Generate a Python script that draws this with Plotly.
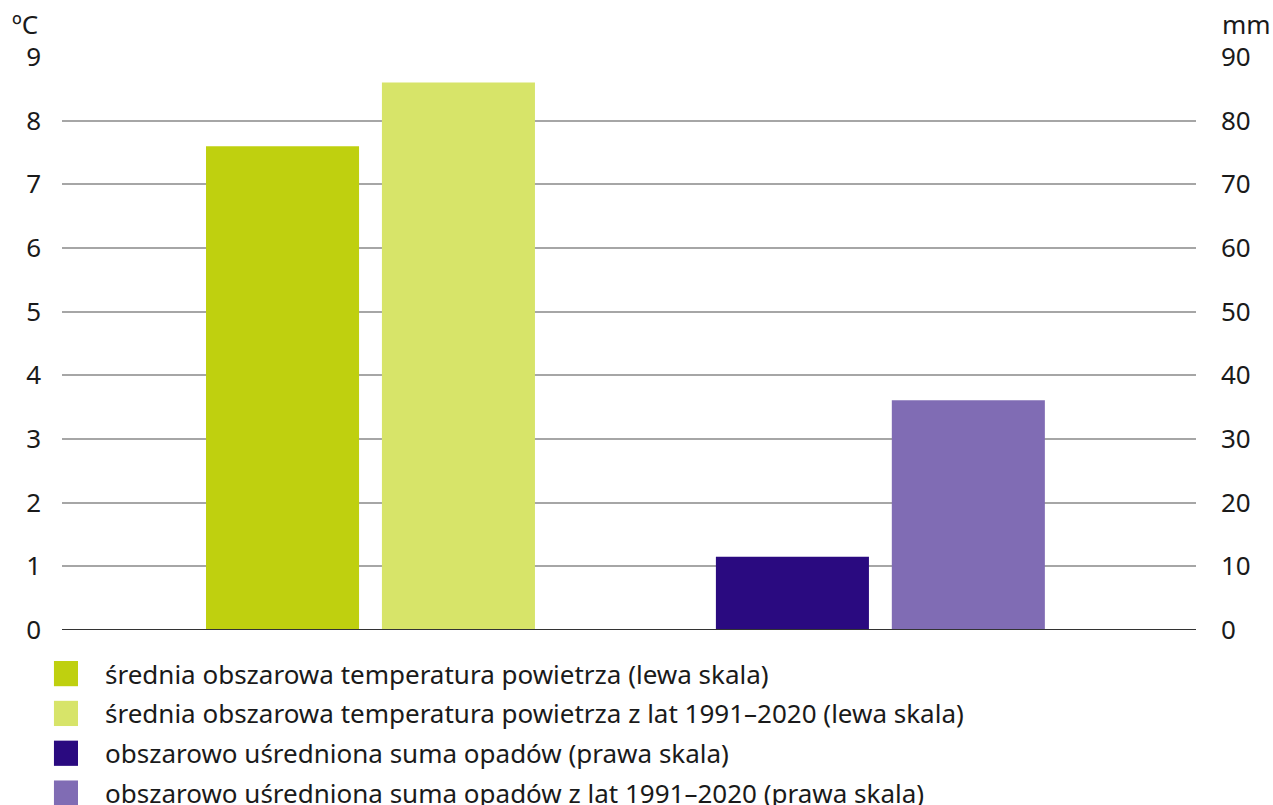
import plotly.graph_objects as go

# two groups: temperature (left scale) and precipitation (right scale)
groups = ["temperatura", "opady"]
temp_now = [7.6, None]
temp_norm = [8.6, None]
precip_now = [None, 11.5]
precip_norm = [None, 36.1]

names = [
    "średnia obszarowa temperatura powietrza (lewa skala)",
    "średnia obszarowa temperatura powietrza z lat 1991–2020 (lewa skala)",
    "obszarowo uśredniona suma opadów (prawa skala)",
    "obszarowo uśredniona suma opadów z lat 1991–2020 (prawa skala)",
]
colors = ["#bfd00f", "#d7e469", "#2a0a80", "#806cb4"]

left_ticks = list(range(0, 10))
right_ticks = list(range(0, 100, 10))

FONT = "Noto Sans"
FS = 26

fig = go.Figure()
series = [temp_now, temp_norm, precip_now, precip_norm]
for i, vals in enumerate(series):
    fig.add_trace(go.Bar(
        x=groups, y=vals, name=names[i],
        marker=dict(color=colors[i], line=dict(width=0)),
        offsetgroup="a" if i % 2 == 0 else "b",
        yaxis="y" if i < 2 else "y2",
        showlegend=False,
    ))

# baseline
shapes = [dict(type="line", xref="paper", yref="y", x0=0, x1=1, y0=0, y1=0,
               line=dict(color="#333333", width=2))]

# hand-drawn legend with big square swatches
for i, name in enumerate(names):
    top = -0.0541 - i * 0.0695
    shapes.append(dict(type="rect", xref="paper", yref="paper",
                       x0=-0.0071, x1=0.0141, y0=top - 0.044, y1=top,
                       fillcolor=colors[i], line=dict(width=0)))
    fig.add_annotation(x=0.0362, y=top - 0.022, xref="paper", yref="paper",
                       text=name, showarrow=False, xanchor="left", yanchor="middle",
                       font=dict(family=FONT, size=FS, color="#1a1a1a"))

fig.add_annotation(x=-0.046, y=1.022, xref="paper", yref="paper", text="ºC",
                   showarrow=False, xanchor="left", yanchor="bottom",
                   font=dict(family=FONT, size=FS, color="#1a1a1a"))
fig.add_annotation(x=1.021, y=1.022, xref="paper", yref="paper", text="mm",
                   showarrow=False, xanchor="left", yanchor="bottom",
                   font=dict(family=FONT, size=FS, color="#1a1a1a"))

fig.update_layout(
    width=1273, height=805,
    margin=dict(l=62, r=77, t=57, b=175),
    paper_bgcolor="white", plot_bgcolor="white",
    font=dict(family=FONT, size=FS, color="#1a1a1a"),
    barmode="group", bargap=0.31, bargroupgap=0.13,
    xaxis=dict(range=[-0.605, 1.619], showticklabels=False, showgrid=False,
               zeroline=False, showline=False),
    yaxis=dict(range=[0, 9], tickvals=left_ticks, showgrid=True,
               gridcolor="#a6a6a6", gridwidth=1.5, zeroline=False,
               showline=False, ticks="", ticklabelstandoff=20, automargin=False),
    yaxis2=dict(range=[0, 90], tickvals=right_ticks, overlaying="y", side="right",
                showgrid=False, zeroline=False, showline=False, ticks="",
                ticklabelstandoff=24, automargin=False),
    shapes=shapes,
)

fig.write_html("out.html", config={"displayModeBar": False},
               post_script="document.body.style.margin='0px';")
